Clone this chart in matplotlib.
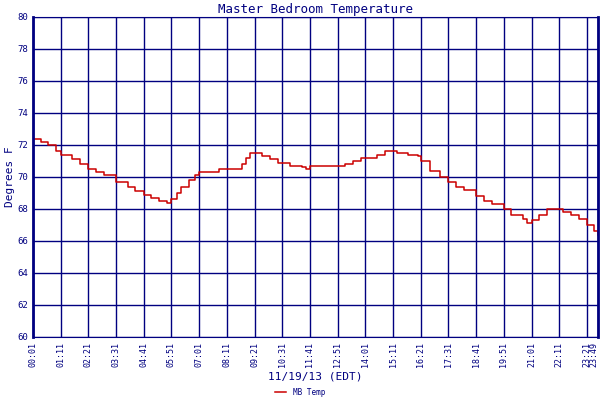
import matplotlib
matplotlib.use("Agg")
import matplotlib.pyplot as plt

# readings: time of day and temperature (deg F)
times = ["00:01", "00:20", "00:40", "01:00", "01:11", "01:40", "02:00", "02:21", "02:40",
         "03:00", "03:31", "04:00", "04:20", "04:41", "05:00", "05:20", "05:40", "05:51",
         "06:05", "06:15", "06:35", "06:50", "07:01", "07:40", "07:50", "08:40", "08:50",
         "09:00", "09:10", "09:30", "09:40", "10:00", "10:20", "10:50", "11:20", "11:30",
         "11:41", "12:51", "13:10", "13:30", "13:50", "14:30", "14:50", "15:20", "15:50",
         "16:15", "16:21", "16:45", "17:10", "17:31", "17:50", "18:10", "18:41", "19:00",
         "19:20", "19:51", "20:10", "20:40", "20:50", "21:01", "21:20", "21:40", "22:11",
         "22:20", "22:40", "23:00", "23:21", "23:40", "23:49"]
temps = [72.4, 72.2, 72.0, 71.6, 71.4, 71.1, 70.8, 70.5, 70.3,
         70.1, 69.7, 69.4, 69.1, 68.9, 68.7, 68.5, 68.4, 68.6,
         69.0, 69.4, 69.8, 70.1, 70.3, 70.3, 70.5, 70.5, 70.8,
         71.2, 71.5, 71.5, 71.3, 71.1, 70.9, 70.7, 70.6, 70.5,
         70.7, 70.7, 70.8, 71.0, 71.2, 71.4, 71.6, 71.5, 71.4,
         71.3, 71.0, 70.4, 70.0, 69.7, 69.4, 69.2, 68.8, 68.5,
         68.3, 68.0, 67.6, 67.4, 67.1, 67.3, 67.6, 68.0, 68.0,
         67.8, 67.6, 67.4, 67.0, 66.6, 66.4]
tick_labels = ["00:01", "01:11", "02:21", "03:31", "04:41", "05:51", "07:01", "08:11",
               "09:21", "10:31", "11:41", "12:51", "14:01", "15:11", "16:21", "17:31",
               "18:41", "19:51", "21:01", "22:11", "23:21", "23:49"]


def to_min(t):
    h, m = t.split(":")
    return int(h) * 60 + int(m)


navy = "#000080"
plt.rcParams["font.family"] = "DejaVu Sans Mono"

fig = plt.figure(figsize=(6, 4), dpi=100)
ax = fig.add_axes([33 / 600, 63 / 400, 565 / 600, 320 / 400])

x = [to_min(t) for t in times]
ax.step(x, temps, where="post", color="#cc0000", lw=1.1, label="MB Temp")

ticks = [to_min(t) for t in tick_labels]
ax.set_xticks(ticks)
ax.set_xticklabels(tick_labels, rotation=90, fontsize=6, color=navy)
ax.get_xticklabels()[-1].set_horizontalalignment("right")
ax.set_xlim(1, 1429)
ax.set_ylim(60, 80)
ax.set_yticks(range(60, 81, 2))
ax.tick_params(axis="y", labelsize=6.5, colors=navy, length=0)
ax.tick_params(axis="x", length=0, colors=navy)
ax.grid(True, color=navy, lw=1)
for s in ax.spines.values():
    s.set_color(navy)
ax.spines["left"].set_linewidth(2)
ax.spines["right"].set_linewidth(2)

ax.set_title("Master Bedroom Temperature", color=navy, fontsize=9, pad=3)
ax.set_ylabel("Degrees F", color=navy, fontsize=8, labelpad=2)
ax.set_xlabel("11/19/13 (EDT)", color=navy, fontsize=8, labelpad=3)
fig.legend(loc="lower center", bbox_to_anchor=(0.5, -0.01), frameon=False,
           fontsize=5.5, handlelength=1.5, labelcolor=navy)

fig.savefig("out.png", dpi=100, facecolor="white")
